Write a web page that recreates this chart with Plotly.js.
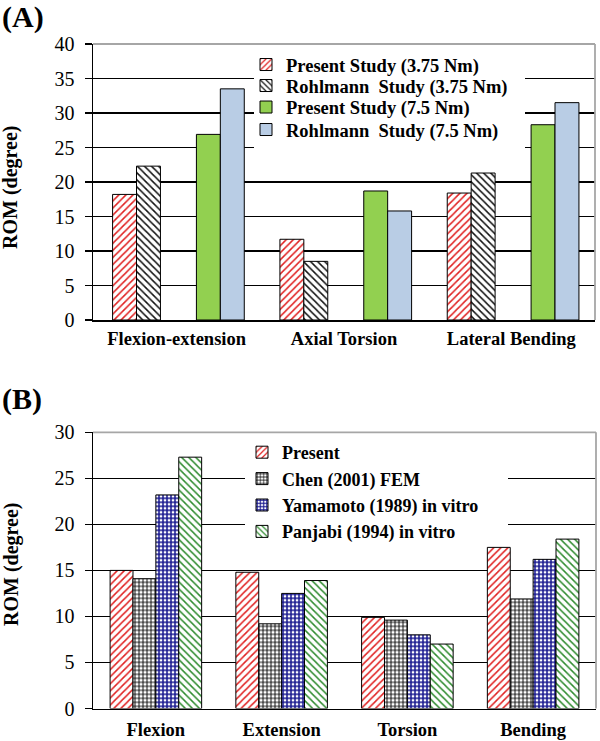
<!DOCTYPE html>
<html>
<head>
<meta charset="utf-8">
<script src="https://cdn.plot.ly/plotly-3.0.1.min.js"></script>
<style>html,body{margin:0;padding:0;background:#fff;}#chart{width:600px;height:741px;}</style>
</head>
<body>
<div id="chart"></div>
<script>
// ---- Panel A data ----
const catsA = ['Flexion-extension', 'Axial Torsion', 'Lateral Bending'];
const presentA375 = [18.2, 11.7, 18.4];
const rohlmannA375 = [22.3, 8.5, 21.3];
const presentA75 = [26.9, 18.7, 28.3];
const rohlmannA75 = [33.5, 15.8, 31.5];
const namesA = ['Present Study (3.75 Nm)', 'Rohlmann\u00a0 Study (3.75 Nm)', 'Present Study (7.5 Nm)', 'Rohlmann\u00a0 Study (7.5 Nm)'];

// ---- Panel B data ----
const catsB = ['Flexion', 'Extension', 'Torsion', 'Bending'];
const presentB = [15.0, 14.8, 9.9, 17.5];
const chenB = [14.1, 9.2, 9.6, 11.9];
const yamamotoB = [23.2, 12.5, 8.0, 16.2];
const panjabiB = [27.3, 13.9, 7.0, 18.4];
const namesB = ['Present', 'Chen (2001) FEM', 'Yamamoto (1989) in vitro', 'Panjabi (1994) in vitro'];

const SERIF = 'Liberation Serif, Times New Roman, serif';
const outline = {color: '#000', width: 1};

function hatch(shape, fg, bg, size, sol) {
  return {shape: shape, fgcolor: fg, bgcolor: bg, size: size, solidity: sol, fillmode: 'replace'};
}

const W = 0.143;
const legA = ['legend', 'legend3', 'legend4', 'legend5'];
const tracesA = [
  {y: presentA375, name: namesA[0], offset: -0.383,
   marker: {color: '#e02020', line: outline, pattern: hatch('/', '#e02020', '#ffffff', 5, 0.3)}},
  {y: rohlmannA375, name: namesA[1], offset: -0.240,
   marker: {color: '#000', line: outline, pattern: hatch('\\', '#111', '#ffffff', 5, 0.3)}},
  {y: presentA75, name: namesA[2], offset: 0.118,
   marker: {color: '#92d050', line: outline}},
  {y: rohlmannA75, name: namesA[3], offset: 0.261,
   marker: {color: '#b9cde5', line: outline}}
].map((t, i) => Object.assign({type: 'bar', x: catsA, width: W, xaxis: 'x', yaxis: 'y', legend: legA[i], showlegend: true}, t));

const tracesB = [
  {y: presentB, name: namesB[0],
   marker: {color: '#e02020', line: outline, pattern: hatch('/', '#e02020', '#ffffff', 5, 0.3)}},
  {y: chenB, name: namesB[1],
   marker: {color: '#000', line: outline, pattern: hatch('+', '#000', '#ffffff', 4, 0.4)}},
  {y: yamamotoB, name: namesB[2],
   marker: {color: '#16168e', line: outline, pattern: hatch('+', '#16168e', '#ffffff', 4, 0.6)}},
  {y: panjabiB, name: namesB[3],
   marker: {color: '#2e8b2e', line: outline, pattern: hatch('\\', '#2e8b2e', '#ffffff', 5, 0.3)}}
].map((t, i) => Object.assign({type: 'bar', x: catsB, xaxis: 'x2', yaxis: 'y2', legend: 'legend2', legendgroup: 'g' + i, showlegend: true}, t));

const yax = {
  showgrid: true, gridcolor: '#000', gridwidth: 1.3,
  showline: true, linecolor: '#000', linewidth: 1.5,
  ticks: 'outside', ticklen: 7, tickcolor: '#000', tickwidth: 1.3,
  ticklabelstandoff: 6, zeroline: false,
  tickfont: {family: SERIF, size: 20, color: '#000'}, dtick: 5, fixedrange: true
};
const xax = {
  showline: true, linecolor: '#000', linewidth: 1.5, ticks: '', showgrid: false,
  zeroline: false, fixedrange: true, type: 'category',
  tickfont: {family: SERIF, size: 18.5, color: '#000', weight: 'bold'}
};

const yA = [1 - 320 / 741, 1 - 44 / 741];
const yB = [1 - 708.5 / 741, 1 - 432.3 / 741];

function legAt(xpx, ycpx) {
  return {
    x: xpx / 600, xanchor: 'left', y: 1 - ycpx / 741, yanchor: 'middle',
    bgcolor: 'rgba(255,255,255,0)', borderwidth: 0, visible: true,
    font: {family: SERIF, size: 18.5, color: '#000', weight: 'bold'}, itemwidth: 30
  };
}

function whiteBox(x0, x1, y0, y1) {
  return {type: 'rect', xref: 'paper', yref: 'paper', x0: x0 / 600, x1: x1 / 600,
    y0: 1 - y1 / 741, y1: 1 - y0 / 741, fillcolor: '#fff', line: {width: 0}, layer: 'above'};
}
function frame(xr, yr) {
  return [
    {type: 'line', xref: xr, yref: yr, x0: 0, x1: 1, y0: 1, y1: 1, line: {color: '#a6a6a6', width: 1.8}, layer: 'above'},
    {type: 'line', xref: xr, yref: yr, x0: 1, x1: 1, y0: 0, y1: 1, line: {color: '#a6a6a6', width: 1.8}, layer: 'above'}
  ];
}

const layout = {
  width: 600, height: 741, autosize: false,
  showlegend: true,
  margin: {l: 0, r: 0, t: 0, b: 0},
  paper_bgcolor: '#fff', plot_bgcolor: '#fff',
  barmode: 'group', bargap: 0.272, bargroupgap: 0,
  font: {family: SERIF, color: '#000'},
  xaxis: Object.assign({}, xax, {domain: [93 / 600, 595 / 600], anchor: 'y', ticklabelstandoff: 1}),
  yaxis: Object.assign({}, yax, {domain: yA, range: [0, 40], anchor: 'x'}),
  xaxis2: Object.assign({}, xax, {domain: [93 / 600, 596 / 600], anchor: 'y2', ticklabelstandoff: 4}),
  yaxis2: Object.assign({}, yax, {domain: yB, range: [0, 30], anchor: 'x2'}),
  legend: legAt(246, 65),
  legend3: legAt(246, 86),
  legend4: legAt(246, 107.5),
  legend5: legAt(246, 130),
  legend2: {
    x: 242 / 600, xanchor: 'left', y: 1 - 434 / 741, yanchor: 'top',
    bgcolor: 'rgba(255,255,255,0)', borderwidth: 0,
    font: {family: SERIF, size: 18, color: '#000', weight: 'bold'},
    itemwidth: 30, tracegroupgap: 0
  },
  shapes: [whiteBox(254, 525, 46, 151), whiteBox(245, 508, 434, 541)]
    .concat(frame('x domain', 'y domain'), frame('x2 domain', 'y2 domain')),
  annotations: [
    {text: '(A)', xref: 'paper', yref: 'paper', x: 0, xanchor: 'left', y: 1 - 17 / 741, yanchor: 'middle',
     showarrow: false, font: {family: SERIF, size: 30, color: '#000', weight: 'bold'}},
    {text: '(B)', xref: 'paper', yref: 'paper', x: 0, xanchor: 'left', y: 1 - 399 / 741, yanchor: 'middle',
     showarrow: false, font: {family: SERIF, size: 30, color: '#000', weight: 'bold'}},
    {text: 'ROM (degree)', xref: 'paper', yref: 'paper', x: 11 / 600, xanchor: 'center', y: 1 - 188 / 741, yanchor: 'middle',
     textangle: -90, showarrow: false, font: {family: SERIF, size: 20, color: '#000', weight: 'bold'}},
    {text: 'ROM (degree)', xref: 'paper', yref: 'paper', x: 11 / 600, xanchor: 'center', y: 1 - 565 / 741, yanchor: 'middle',
     textangle: -90, showarrow: false, font: {family: SERIF, size: 20, color: '#000', weight: 'bold'}}
  ]
};

Plotly.newPlot('chart', tracesA.concat(tracesB), layout, {displayModeBar: false, staticPlot: true});
</script>
</body>
</html>
